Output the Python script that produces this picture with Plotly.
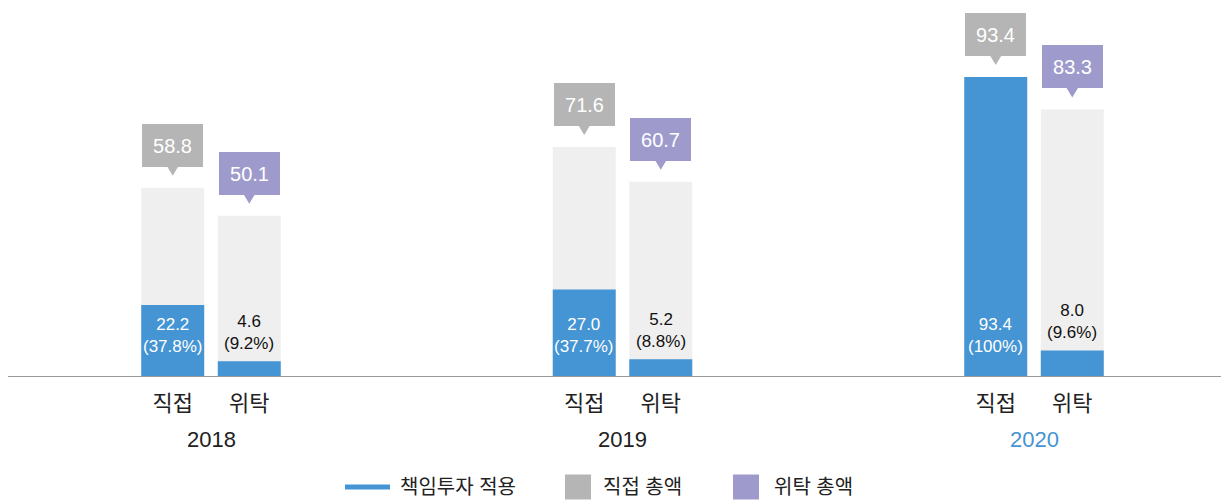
import plotly.graph_objects as go

# ---- data ----
years = ["2018", "2019", "2020"]
type_labels = ["직접", "위탁"]
direct_total = [58.8, 71.6, 93.4]
trust_total = [50.1, 60.7, 83.3]
direct_resp = [22.2, 27.0, 93.4]
trust_resp = [4.6, 5.2, 8.0]
direct_pct = ["37.8%", "37.7%", "100%"]
trust_pct = ["9.2%", "8.8%", "9.6%"]
legend_names = ["책임투자 적용", "직접 총액", "위탁 총액"]

# ---- style ----
BLUE = "#4594d3"
LIGHT = "#efefef"
GRAY = "#b4b5b4"
PURPLE = "#9e9bcc"
FONT = "Liberation Sans, Noto Sans CJK KR, sans-serif"
OFF = 0.093
BW = 0.153
W, H = 1221, 500
ML, MR, MT, MB = 8, 0, 20, 124

n = len(years)
xd = [i - OFF for i in range(n)]
xt = [i + OFF for i in range(n)]

fig = go.Figure()
fig.add_bar(x=xd + xt, y=direct_total + trust_total, width=BW,
            marker=dict(color=LIGHT, line=dict(width=0)), showlegend=False,
            hoverinfo="skip")
fig.add_bar(x=xd + xt, y=direct_resp + trust_resp, width=BW,
            marker=dict(color=BLUE, line=dict(width=0)), showlegend=False)

annotations = []
shapes = []


def callout(x, v, color):
    annotations.append(dict(x=x, y=v, xref="x", yref="y", yanchor="bottom", yshift=21,
                            text=f"{v:.1f}", showarrow=False, bgcolor=color,
                            width=61, height=43, borderpad=0, borderwidth=0,
                            font=dict(family=FONT, size=20, color="white")))
    shapes.append(dict(type="path", xref="x", yref="y", xsizemode="pixel",
                       ysizemode="pixel", xanchor=x, yanchor=v,
                       path="M-6,22 L6,22 L0,12 Z", fillcolor=color, line=dict(width=0)))


for i in range(n):
    callout(xd[i], direct_total[i], GRAY)
    callout(xt[i], trust_total[i], PURPLE)
    annotations.append(dict(x=xd[i], y=0, xref="x", yref="y", yanchor="bottom", yshift=18,
                            text=f"{direct_resp[i]:.1f}<br>({direct_pct[i]})", showarrow=False,
                            font=dict(family=FONT, size=17, color="white")))
    annotations.append(dict(x=xt[i], y=trust_resp[i], xref="x", yref="y", yanchor="bottom",
                            yshift=6, text=f"{trust_resp[i]:.1f}<br>({trust_pct[i]})",
                            showarrow=False, font=dict(family=FONT, size=17, color="#111111")))
    annotations.append(dict(x=i, y=0, xref="x", yref="y", yanchor="middle", yshift=-63,
                            text=years[i], showarrow=False,
                            font=dict(family=FONT, size=22,
                                      color=BLUE if i == n - 1 else "#222222")))

# ---- manual legend (pixel layout converted to paper coords) ----
pw = W - ML - MR
ph = H - MT - MB


def px(x):
    return (x - ML) / pw


def py(y):
    return (H - MB - y) / ph


LEG_Y = 487
legend_items = [
    ("line", BLUE, legend_names[0], 345, 390, 398),
    ("box", GRAY, legend_names[1], 565, 591, 601),
    ("box", PURPLE, legend_names[2], 733, 759, 772),
]
for kind, color, name, x0, x1, tx in legend_items:
    half = 2.5 if kind == "line" else 12.5
    shapes.append(dict(type="rect", xref="paper", yref="paper",
                       x0=px(x0), x1=px(x1), y0=py(LEG_Y + half), y1=py(LEG_Y - half),
                       fillcolor=color, line=dict(width=0)))
    annotations.append(dict(x=px(tx), y=py(LEG_Y), xref="paper", yref="paper",
                            xanchor="left", yanchor="middle", text=name, showarrow=False,
                            font=dict(family=FONT, size=20, color="#222222")))

fig.update_layout(
    width=W, height=H,
    margin=dict(l=ML, r=MR, t=MT, b=MB),
    paper_bgcolor="white", plot_bgcolor="white",
    barmode="overlay",
    font=dict(family=FONT, color="#222222"),
    xaxis=dict(range=[-0.4933, 2.4544], tickvals=xd + xt,
               ticktext=[type_labels[0]] * n + [type_labels[1]] * n,
               tickfont=dict(size=22, color="#222222"), showgrid=False, zeroline=False,
               showline=True, linecolor="#999999", linewidth=1, ticks="",
               ticklabelstandoff=8),
    yaxis=dict(range=[0, 111.25], visible=False),
    annotations=annotations,
    shapes=shapes,
    showlegend=False,
)

fig.write_html("out.html", config={"displayModeBar": False},
               post_script="document.body.style.margin='0px';")
